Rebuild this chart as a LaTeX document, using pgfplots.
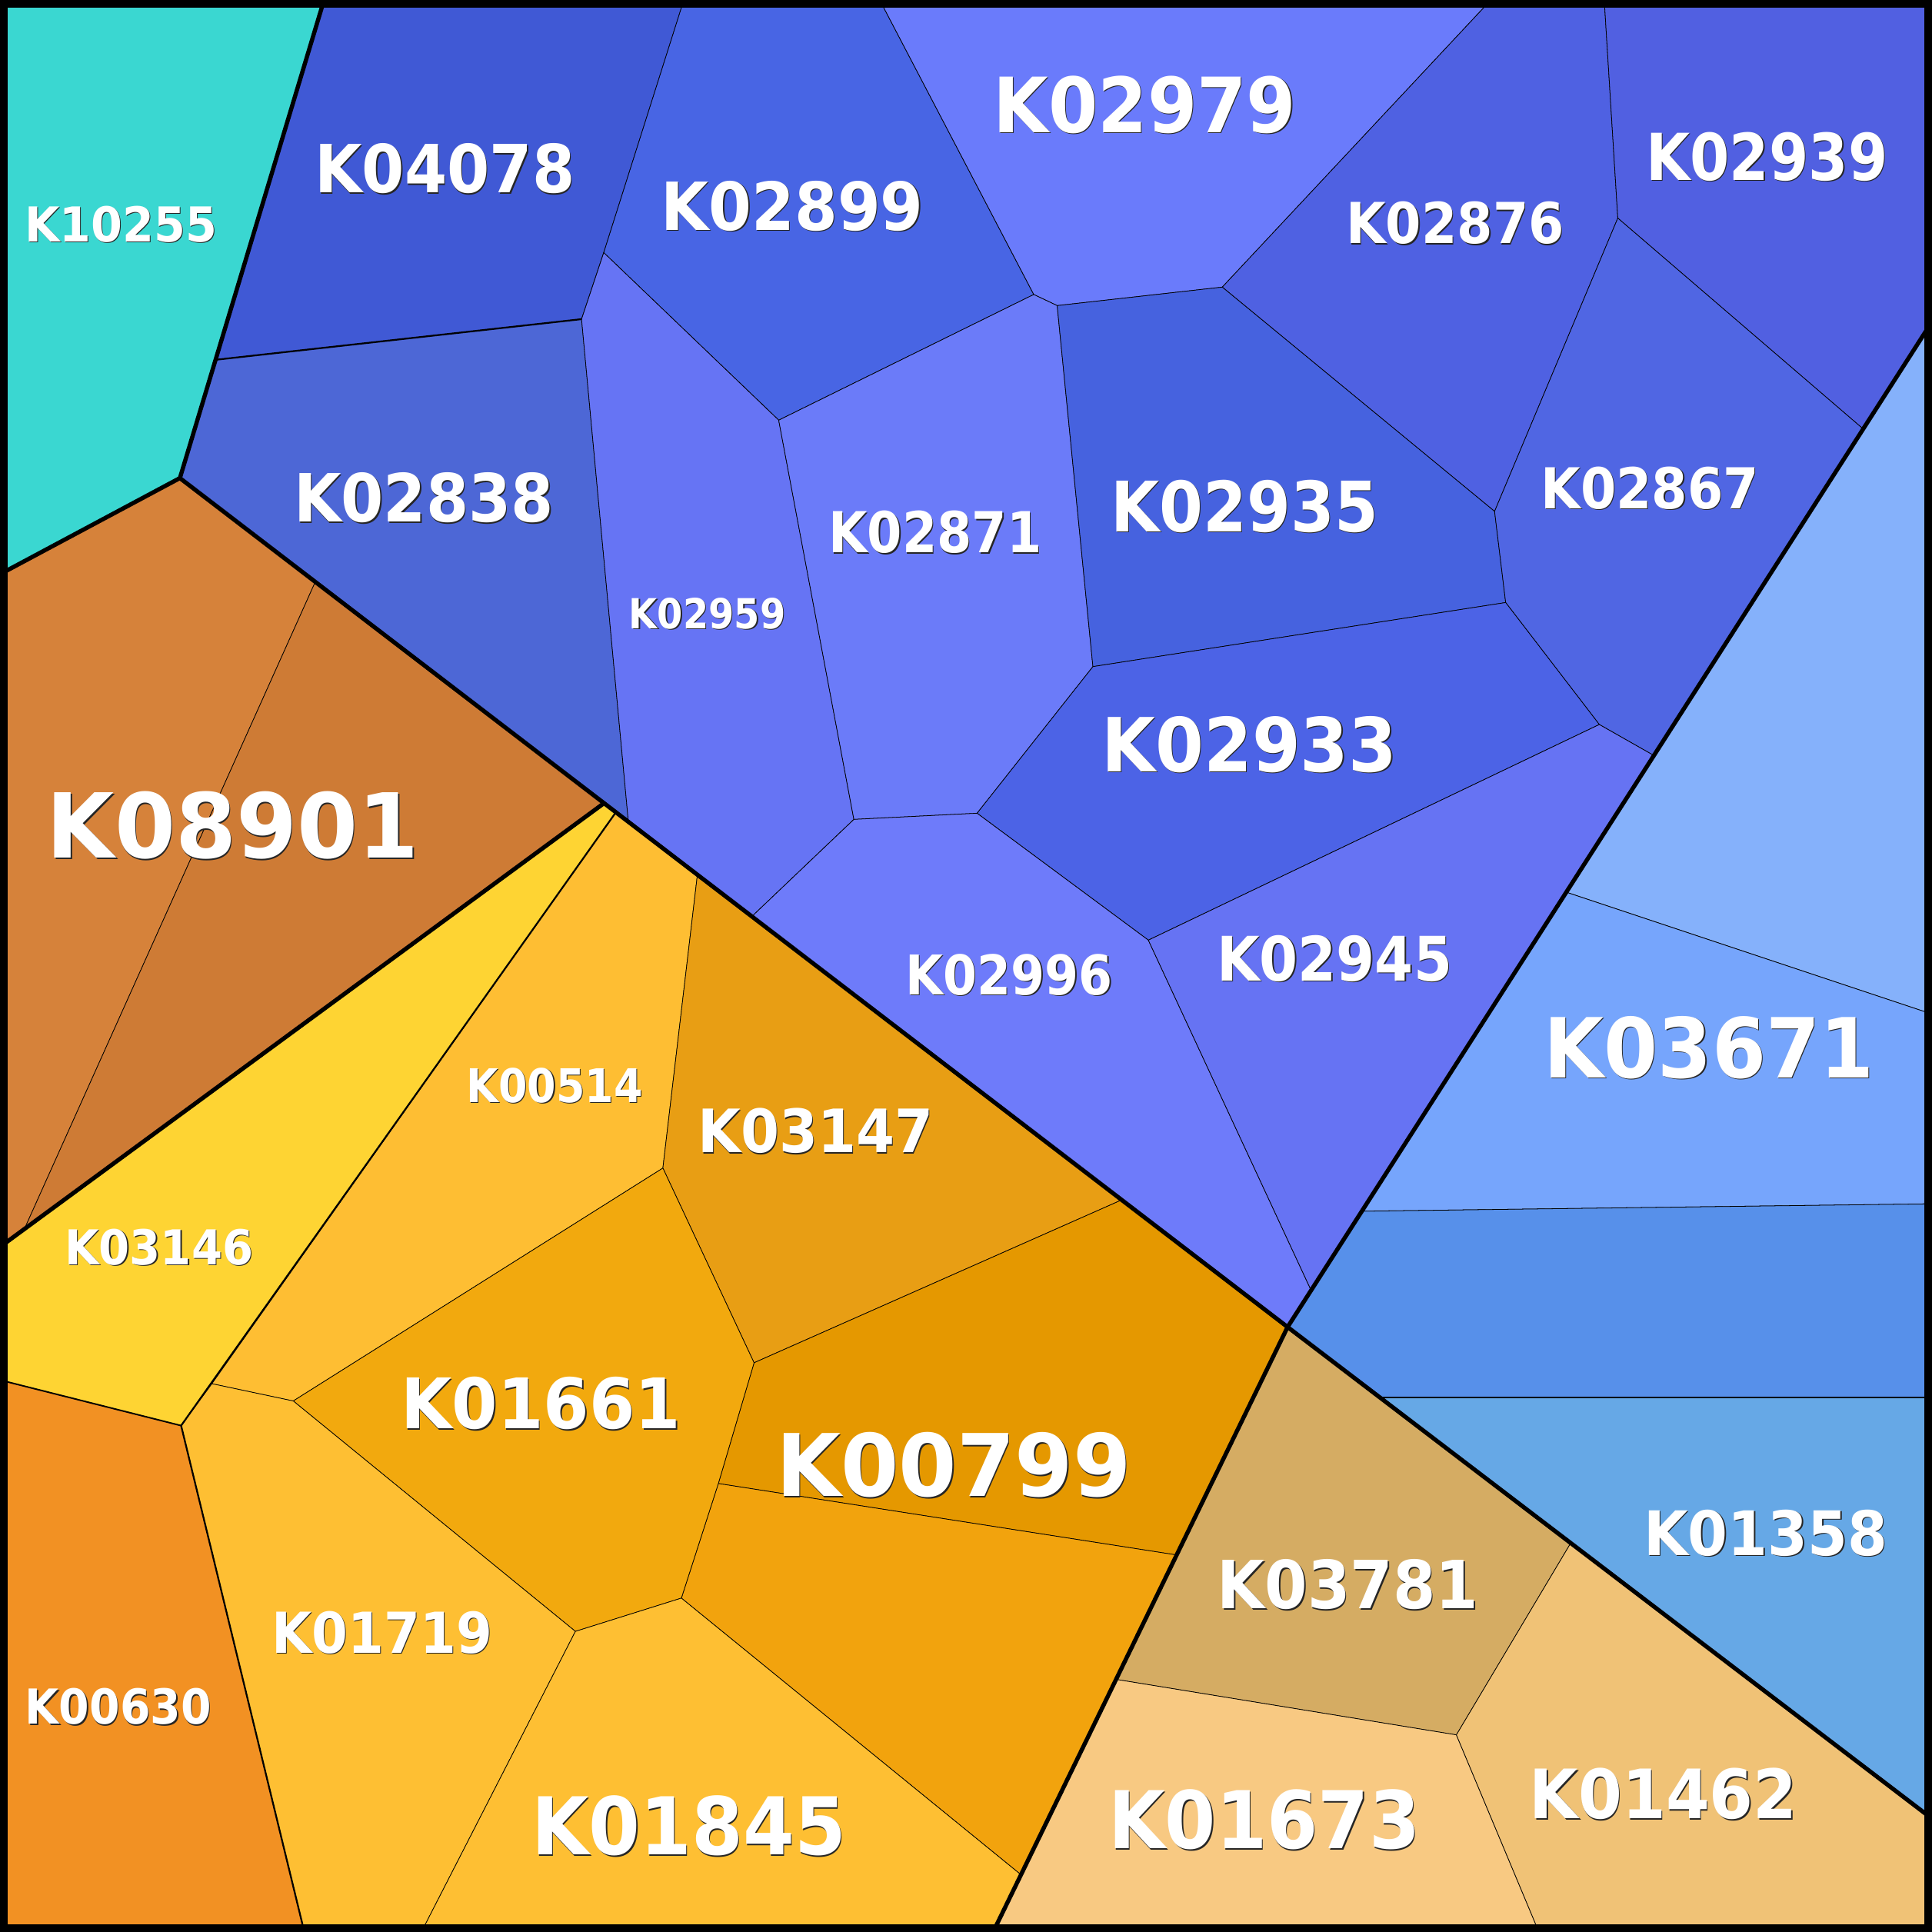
\documentclass[border=0pt]{standalone}
\usepackage{pgfplots}
\pgfplotsset{compat=1.18}
\usepackage{graphicx}
\usepackage{fontspec}
\setmainfont{DejaVu Sans}

\newdimen\unitpx \unitpx=0.25pt
% label: x, y (centre), width, cap height, text
\newcommand{\lab}[5]{%
  \node[inner sep=0pt, text=black!85, xshift=0.22pt, yshift=-0.22pt] at (axis cs:#1,#2) {\resizebox{#3\unitpx}{#4\unitpx}{\bfseries #5}};
  \node[inner sep=0pt, text=white] at (axis cs:#1,#2) {\resizebox{#3\unitpx}{#4\unitpx}{\bfseries #5}};}

\definecolor{cK10255}{HTML}{3AD7D1}
\definecolor{cK04078}{HTML}{4059D5}
\definecolor{cK02838}{HTML}{4D67D6}
\definecolor{cK02899}{HTML}{4865E4}
\definecolor{cK02979}{HTML}{6A7BFB}
\definecolor{cK02876}{HTML}{4F61E2}
\definecolor{cK02939}{HTML}{5160E1}
\definecolor{cK02959}{HTML}{6674F4}
\definecolor{cK02871}{HTML}{6B7BF9}
\definecolor{cK02935}{HTML}{4662DF}
\definecolor{cK02867}{HTML}{5066E3}
\definecolor{cK02933}{HTML}{4C63E6}
\definecolor{cK02996}{HTML}{6E7BFA}
\definecolor{cK02945}{HTML}{6673F3}
\definecolor{cLBtop}{HTML}{85B1FB}
\definecolor{cK03671}{HTML}{76A5FC}
\definecolor{cLBmid}{HTML}{5790EA}
\definecolor{cK01358}{HTML}{66A8E6}
\definecolor{cBrL}{HTML}{D6823A}
\definecolor{cK08901}{HTML}{CE7B35}
\definecolor{cK03146}{HTML}{FED433}
\definecolor{cK00514}{HTML}{FEBE33}
\definecolor{cK03147}{HTML}{E89E14}
\definecolor{cK00799}{HTML}{E59800}
\definecolor{cK00799b}{HTML}{F2A30D}
\definecolor{cK01661}{HTML}{F2A90E}
\definecolor{cK01719}{HTML}{FEBF33}
\definecolor{cK01845}{HTML}{FEBF33}
\definecolor{cK00630}{HTML}{F29123}
\definecolor{cK03781}{HTML}{D5AC63}
\definecolor{cK01673}{HTML}{F8C982}
\definecolor{cK01462}{HTML}{F0C276}

\begin{document}
\begin{tikzpicture}
\begin{axis}[
  width=392pt, height=392pt, scale only axis,
  xmin=0, xmax=1568, ymin=0, ymax=1568, y dir=reverse,
  hide axis, clip=true,
  cell/.style={draw=black, line width=0.12pt},
]
% ---- cyan group
\addplot[cell, fill=cK10255] coordinates {(0,0)(263,0)(146,388)(0,466)} -- cycle;
% ---- blue group
\addplot[cell, fill=cK04078] coordinates {(263,0)(555,0)(490,205)(472,259)(175,292)} -- cycle;
\addplot[cell, fill=cK02838] coordinates {(175,292)(472,259)(510,667)(146,388)} -- cycle;
\addplot[cell, fill=cK02899] coordinates {(555,0)(714,0)(839,239)(632,341)(490,205)} -- cycle;
\addplot[cell, fill=cK02979] coordinates {(714,0)(1210,0)(992,233)(858,248)(839,239)} -- cycle;
\addplot[cell, fill=cK02876] coordinates {(1210,0)(1302,0)(1313,177)(1213,415)(992,233)} -- cycle;
\addplot[cell, fill=cK02939] coordinates {(1302,0)(1568,0)(1568,261)(1512,348)(1313,177)} -- cycle;
\addplot[cell, fill=cK02959] coordinates {(472,259)(490,205)(632,341)(693,665)(610,744)(510,667)} -- cycle;
\addplot[cell, fill=cK02871] coordinates {(632,341)(839,239)(858,248)(887,541)(793,660)(693,665)} -- cycle;
\addplot[cell, fill=cK02935] coordinates {(858,248)(992,233)(1213,415)(1222,489)(887,541)} -- cycle;
\addplot[cell, fill=cK02867] coordinates {(1313,177)(1512,348)(1342,613)(1298,588)(1222,489)(1213,415)} -- cycle;
\addplot[cell, fill=cK02933] coordinates {(887,541)(1222,489)(1298,588)(932,763)(793,660)} -- cycle;
\addplot[cell, fill=cK02996] coordinates {(610,744)(693,665)(793,660)(932,763)(1064,1047)(1045,1077)} -- cycle;
\addplot[cell, fill=cK02945] coordinates {(932,763)(1298,588)(1342,613)(1064,1047)} -- cycle;
% ---- light blue group
\addplot[cell, fill=cLBtop] coordinates {(1568,261)(1271,724)(1568,823)} -- cycle;
\addplot[cell, fill=cK03671] coordinates {(1271,724)(1568,823)(1568,977)(1105,983)} -- cycle;
\addplot[cell, fill=cLBmid] coordinates {(1105,983)(1568,977)(1568,1134)(1120,1134)(1045,1077)} -- cycle;
\addplot[cell, fill=cK01358] coordinates {(1120,1134)(1568,1134)(1568,1476)} -- cycle;
% ---- brown group
\addplot[cell, fill=cBrL] coordinates {(0,466)(146,388)(256,472)(20,997)(0,1012)} -- cycle;
\addplot[cell, fill=cK08901] coordinates {(256,472)(490,652)(20,997)} -- cycle;
% ---- orange group
\addplot[cell, fill=cK03146] coordinates {(0,1012)(490,652)(500,659)(147,1157)(0,1120)} -- cycle;
\addplot[cell, fill=cK00514] coordinates {(500,659)(566,710)(538,948)(238,1137)(172,1123)} -- cycle;
\addplot[cell, fill=cK03147] coordinates {(566,710)(910,974)(612,1106)(538,948)} -- cycle;
\addplot[cell, fill=cK00799] coordinates {(910,974)(1045,1077)(955,1262)(583,1204)(612,1106)} -- cycle;
\addplot[cell, fill=cK00799b] coordinates {(583,1204)(955,1262)(828,1521)(553,1297)} -- cycle;
\addplot[cell, fill=cK01661] coordinates {(238,1137)(538,948)(612,1106)(583,1204)(553,1297)(467,1324)} -- cycle;
\addplot[cell, fill=cK01719] coordinates {(147,1157)(172,1123)(238,1137)(467,1324)(342,1568)(247,1568)} -- cycle;
\addplot[cell, fill=cK01845] coordinates {(467,1324)(553,1297)(828,1521)(806,1568)(342,1568)} -- cycle;
\addplot[cell, fill=cK00630] coordinates {(0,1120)(147,1157)(247,1568)(0,1568)} -- cycle;
% ---- tan group
\addplot[cell, fill=cK03781] coordinates {(1045,1077)(1275,1252)(1182,1408)(906,1363)} -- cycle;
\addplot[cell, fill=cK01673] coordinates {(906,1363)(1182,1408)(1249,1568)(806,1568)} -- cycle;
\addplot[cell, fill=cK01462] coordinates {(1275,1252)(1568,1476)(1568,1568)(1249,1568)(1182,1408)} -- cycle;

% ---- medium borders
\addplot[no marks, line width=0.35pt] coordinates {(175,292)(472,259)};
\addplot[no marks, line width=0.35pt] coordinates {(500,659)(147,1157)(247,1568)};
\addplot[no marks, line width=0.3pt] coordinates {(0,1120)(147,1157)};
\addplot[no marks, line width=0.3pt] coordinates {(1120,1134)(1568,1134)};
% ---- group borders
\addplot[no marks, line width=0.85pt] coordinates {(263,0)(146,388)(0,466)};
\addplot[no marks, line width=0.85pt] coordinates {(146,388)(1045,1077)(1568,1476)};
\addplot[no marks, line width=0.85pt] coordinates {(1568,261)(1045,1077)(806,1568)};
\addplot[no marks, line width=0.85pt] coordinates {(490,652)(0,1012)};
% ---- outer frame
\draw[line width=1.5pt] (axis cs:3,3) rectangle (axis cs:1565,1565);

% ---- labels
\lab{98}{182}{156}{29}{K10255}
\lab{361}{137}{211}{40}{K04078}
\lab{643}{167}{213}{40}{K02899}
\lab{929}{85}{246}{46}{K02979}
\lab{1181}{181}{177}{34}{K02876}
\lab{1434}{127}{196}{39}{K02939}
\lab{344}{404}{211}{40}{K02838}
\lab{759}{432}{173}{34}{K02871}
\lab{1010}{411}{217}{42}{K02935}
\lab{1339}{396}{177}{34}{K02867}
\lab{574}{498}{127}{25}{K02959}
\lab{1014}{604}{240}{45}{K02933}
\lab{189}{670}{302}{54}{K08901}
\lab{819}{791}{168}{33}{K02996}
\lab{1083}{778}{191}{37}{K02945}
\lab{1387}{850}{268}{50}{K03671}
\lab{450}{881}{143}{28}{K00514}
\lab{662}{918}{191}{36}{K03147}
\lab{129}{1012}{153}{29}{K03146}
\lab{439}{1139}{227}{42}{K01661}
\lab{774}{1189}{288}{52}{K00799}
\lab{1433}{1244}{198}{37}{K01358}
\lab{1094}{1286}{212}{40}{K03781}
\lab{310}{1325}{179}{34}{K01719}
\lab{96}{1385}{151}{29}{K00630}
\lab{1350}{1456}{217}{41}{K01462}
\lab{1026}{1477}{253}{48}{K01673}
\lab{559}{1482}{255}{48}{K01845}
\end{axis}
\end{tikzpicture}
\end{document}
